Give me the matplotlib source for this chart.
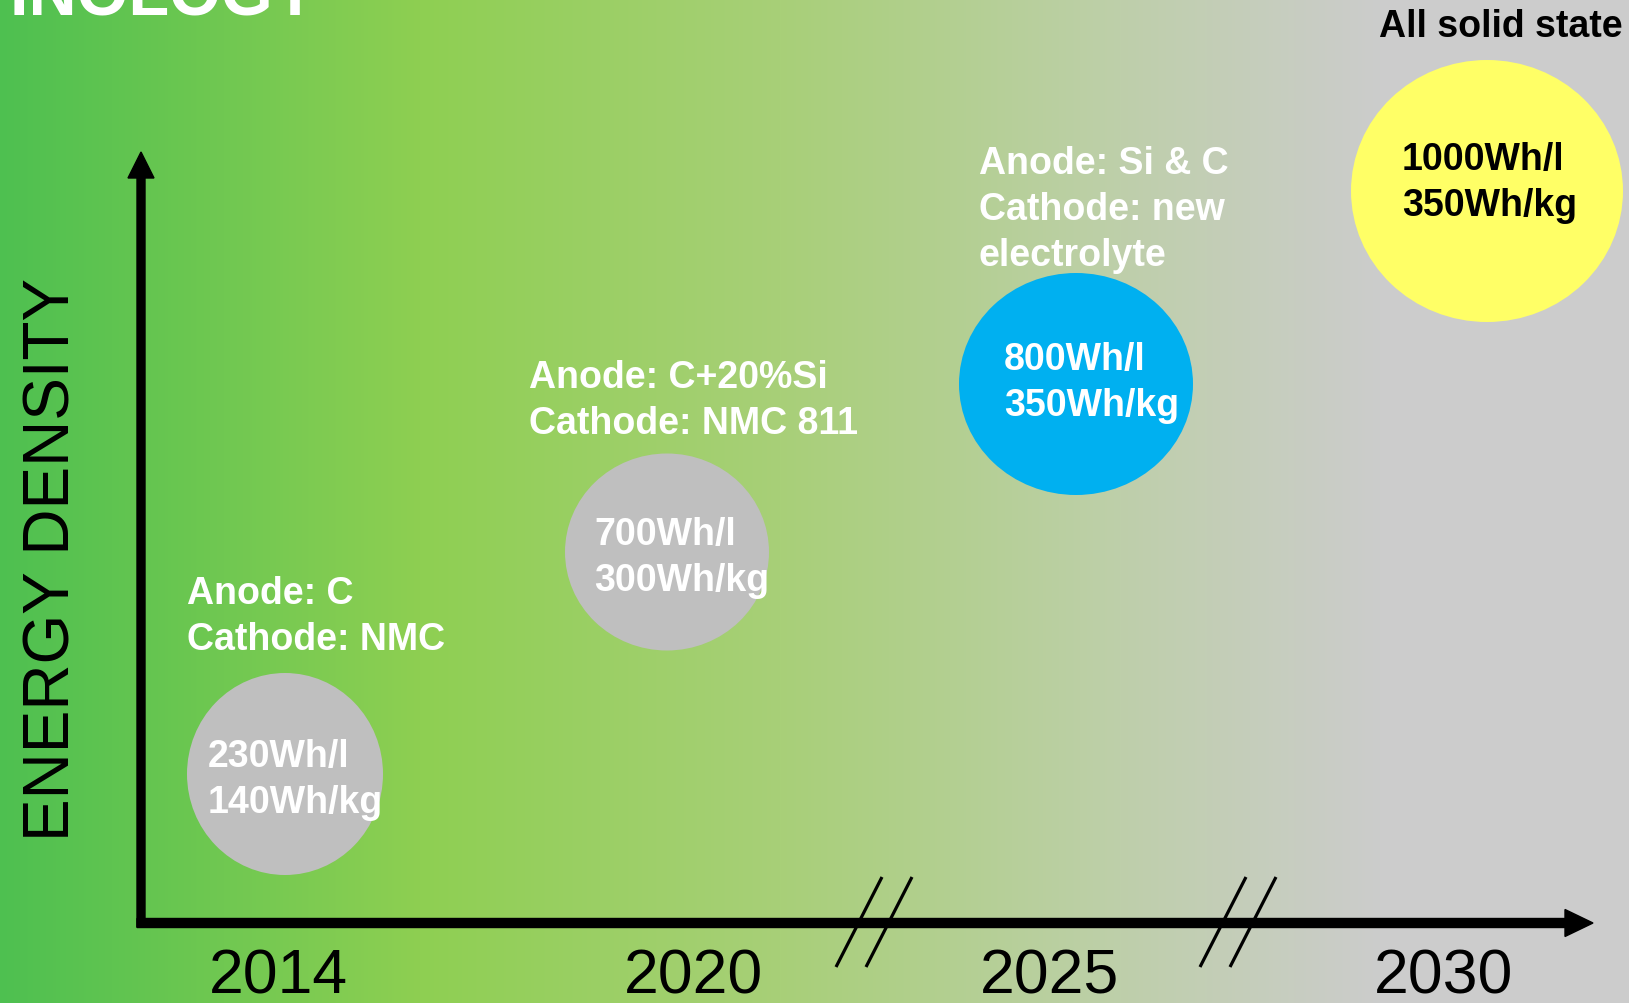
import matplotlib
matplotlib.use("Agg")
import matplotlib.pyplot as plt
from matplotlib.patches import Ellipse
import numpy as np

plt.rcParams['font.family'] = ['Liberation Sans', 'DejaVu Sans']

# battery generations
years = ['2014', '2020', '2025', '2030']
wh_per_l = [230, 700, 800, 1000]
wh_per_kg = [140, 300, 350, 350]
chemistry = ['Anode: C\nCathode: NMC',
             'Anode: C+20%Si\nCathode: NMC 811',
             'Anode: Si & C\nCathode: new\nelectrolyte',
             'All solid state']
bubble_colors = ['#BFBFBF', '#BFBFBF', '#00B0F0', '#FFFF66']
value_colors = ['white', 'white', 'white', 'black']
note_colors = ['white', 'white', 'white', 'black']

# layout in pixel units (axes spans the whole figure)
W, H = 1629, 1004
bub_x = [285, 667, 1076, 1487]
bub_y = [775, 553, 385, 192]
bub_w = [196, 204, 234, 272]
bub_h = [202, 197, 222, 262]
val_x = [208, 594, 1004, 1402]
val_base = [767, 545, 370, 170]
note_x = [187, 529, 979, 1623]
note_base = [604, 388, 174, 37]
note_ha = ['left', 'left', 'left', 'right']
year_x = [278, 694, 1050, 1444]
line_step = 46
bold_size = 27

fig = plt.figure(figsize=(W / 100, H / 100), dpi=100)
ax = fig.add_axes([0, 0, 1, 1])
ax.set_xlim(0, W)
ax.set_ylim(H, 0)
ax.axis('off')

# green -> grey background
stops = [0, 420, 780, 1120, 1380, W]
cols = np.array([[78, 192, 80], [142, 207, 82], [168, 208, 120],
                 [190, 207, 170], [204, 204, 204], [204, 204, 204]]) / 255
xs = np.arange(W)
grad = np.stack([np.interp(xs, stops, cols[:, c]) for c in range(3)], axis=-1)
ax.imshow(grad[np.newaxis, :, :], extent=[0, W, H, 0], aspect='auto', zorder=0)

# title runs off the top edge
ax.text(318, 16, 'TECHNOLOGY', color='white', fontsize=48, fontweight='bold',
        ha='right', va='baseline', zorder=3)

# axes arrows
ax.arrow(141, 928, 0, -775, width=8, head_width=26, head_length=26,
         length_includes_head=True, color='black', zorder=4)
ax.arrow(137, 924, 1456, 0, width=9, head_width=27, head_length=28,
         length_includes_head=True, color='black', zorder=4)

# axis breaks
for x0 in [882, 1246]:
    for dx in [0, 30]:
        ax.plot([x0 + dx, x0 + dx - 46], [878, 968], color='black', lw=2.3,
                solid_capstyle='butt', zorder=5)

ax.text(53, 560, 'ENERGY DENSITY', rotation=90, fontsize=46,
        ha='center', va='center', color='black', zorder=3)

for i in range(len(years)):
    ax.add_patch(Ellipse((bub_x[i], bub_y[i]), bub_w[i], bub_h[i],
                         facecolor=bubble_colors[i], edgecolor='none', zorder=2))
    ax.text(val_x[i], val_base[i], f'{wh_per_l[i]}Wh/l', fontsize=bold_size,
            fontweight='bold', color=value_colors[i], va='baseline', zorder=3)
    ax.text(val_x[i], val_base[i] + line_step, f'{wh_per_kg[i]}Wh/kg',
            fontsize=bold_size, fontweight='bold', color=value_colors[i],
            va='baseline', zorder=3)
    for j, line in enumerate(chemistry[i].split('\n')):
        ax.text(note_x[i], note_base[i] + j * line_step, line, fontsize=bold_size,
                fontweight='bold', color=note_colors[i], ha=note_ha[i],
                va='baseline', zorder=3)
    ax.text(year_x[i], 994, years[i], fontsize=45, ha='center', va='baseline',
            color='black', zorder=3)

fig.savefig('out.png', dpi=100)
